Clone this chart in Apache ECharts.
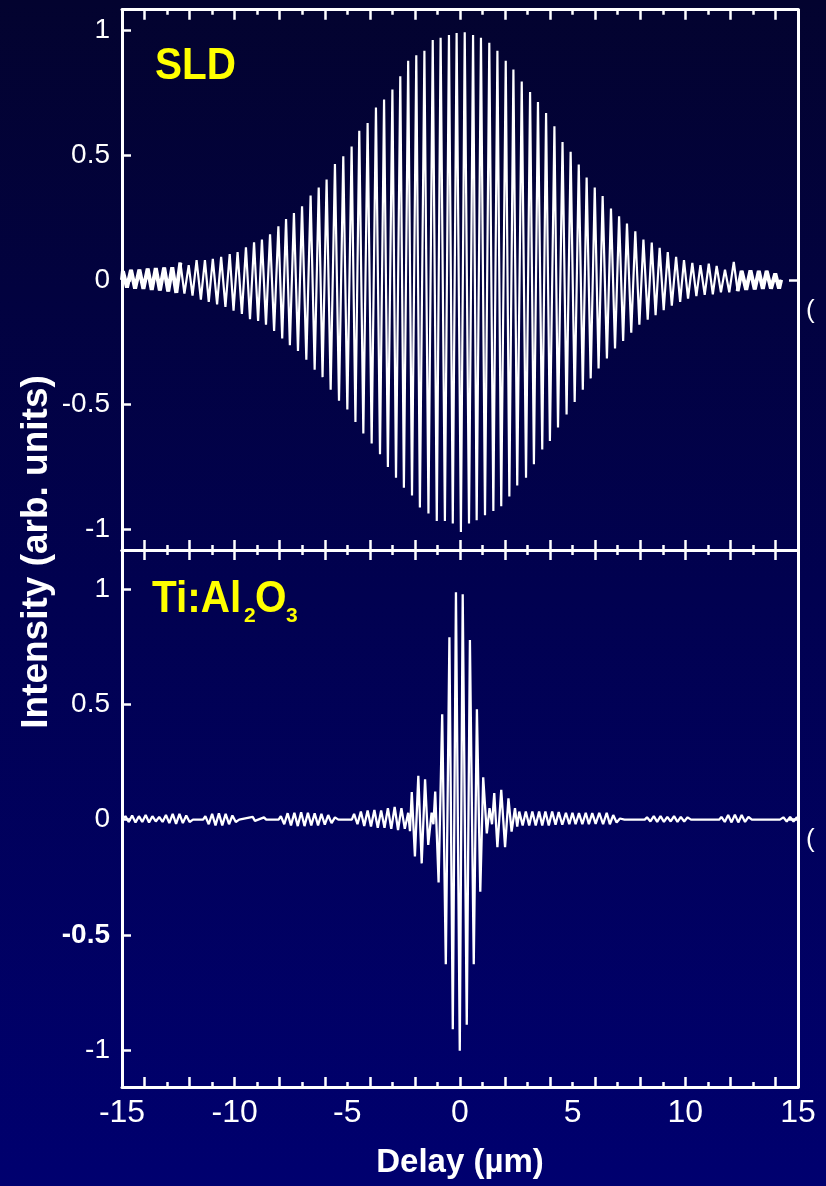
<!DOCTYPE html>
<html>
<head>
<meta charset="utf-8">
<title>SLD vs Ti:Al2O3 interferograms</title>
<script src="https://cdn.jsdelivr.net/npm/echarts@6/dist/echarts.min.js"></script>
<style>
  html, body { margin: 0; padding: 0; }
  #chart {
    width: 826px; height: 1186px;
    background: linear-gradient(to bottom, #03032f 0%, #010150 50%, #00006f 100%);
  }
</style>
</head>
<body>
<div id="chart"></div>
<script>
// tick positions / labels
const delayLabels = [-15, -10, -5, 0, 5, 10, 15];
const delayMajorTicks = [-14, -12, -10, -8, -6, -4, -2, 0, 2, 4, 6, 8, 10, 12, 14];
const intensityTicks = [-1, -0.5, 0, 0.5, 1];

// SLD interferogram: fringe maxima and minima [delay um, intensity]
const sldPeaks = [
  [-14.96, 0.035], [-14.6, 0.04], [-14.23, 0.041], [-13.86, 0.045], [-13.5, 0.047], [-13.13, 0.049],
  [-12.77, 0.05], [-12.41, 0.069], [-12.04, 0.059], [-11.69, 0.079], [-11.32, 0.079], [-10.97, 0.084],
  [-10.6, 0.092], [-10.22, 0.103], [-9.87, 0.111], [-9.5, 0.13], [-9.14, 0.151], [-8.79, 0.162],
  [-8.43, 0.183], [-8.06, 0.215], [-7.72, 0.244], [-7.37, 0.268], [-7.01, 0.295], [-6.63, 0.338],
  [-6.27, 0.37], [-5.92, 0.402], [-5.55, 0.464], [-5.18, 0.495], [-4.81, 0.535], [-4.47, 0.598],
  [-4.1, 0.629], [-3.73, 0.691], [-3.37, 0.723], [-3.0, 0.763], [-2.65, 0.816], [-2.3, 0.878],
  [-1.94, 0.9], [-1.58, 0.918], [-1.21, 0.961], [-0.86, 0.971], [-0.49, 0.982], [-0.15, 0.99],
  [0.21, 0.993], [0.58, 0.982], [0.93, 0.971], [1.3, 0.95], [1.66, 0.918], [2.03, 0.878],
  [2.37, 0.843], [2.74, 0.795], [3.11, 0.753], [3.46, 0.713], [3.82, 0.669], [4.19, 0.616],
  [4.55, 0.553], [4.91, 0.513], [5.27, 0.462], [5.62, 0.41], [5.98, 0.37], [6.33, 0.336],
  [6.7, 0.286], [7.06, 0.255], [7.41, 0.226], [7.78, 0.195], [8.14, 0.162], [8.51, 0.15],
  [8.86, 0.128], [9.22, 0.111], [9.59, 0.092], [9.94, 0.079], [10.31, 0.068], [10.67, 0.059],
  [11.04, 0.065], [11.39, 0.056], [11.76, 0.041], [12.15, 0.072], [12.5, 0.036], [12.89, 0.038],
  [13.26, 0.036], [13.61, 0.036], [13.99, 0.025]
];
const sldTroughs = [
  [-14.78, -0.031], [-14.42, -0.035], [-14.05, -0.036], [-13.68, -0.04], [-13.32, -0.042], [-12.95, -0.046],
  [-12.59, -0.052], [-12.23, -0.055], [-11.87, -0.063], [-11.5, -0.079], [-11.15, -0.088], [-10.78, -0.098],
  [-10.41, -0.108], [-10.05, -0.124], [-9.68, -0.137], [-9.32, -0.158], [-8.96, -0.165], [-8.61, -0.18],
  [-8.25, -0.205], [-7.89, -0.235], [-7.55, -0.262], [-7.19, -0.285], [-6.82, -0.32], [-6.45, -0.36],
  [-6.1, -0.39], [-5.74, -0.44], [-5.37, -0.485], [-5.0, -0.52], [-4.64, -0.57], [-4.29, -0.616],
  [-3.92, -0.656], [-3.55, -0.699], [-3.2, -0.75], [-2.84, -0.793], [-2.49, -0.833], [-2.13, -0.864],
  [-1.78, -0.913], [-1.4, -0.937], [-1.03, -0.967], [-0.67, -0.967], [-0.32, -0.977], [0.04, -1.011],
  [0.4, -0.977], [0.74, -0.964], [1.11, -0.944], [1.48, -0.927], [1.83, -0.908], [2.19, -0.868],
  [2.54, -0.824], [2.93, -0.793], [3.28, -0.739], [3.65, -0.68], [3.99, -0.646], [4.35, -0.592],
  [4.73, -0.54], [5.09, -0.49], [5.45, -0.44], [5.8, -0.395], [6.15, -0.355], [6.52, -0.315],
  [6.88, -0.275], [7.24, -0.245], [7.6, -0.212], [7.96, -0.18], [8.33, -0.16], [8.68, -0.142],
  [9.04, -0.122], [9.4, -0.103], [9.77, -0.088], [10.12, -0.075], [10.49, -0.065], [10.86, -0.06],
  [11.22, -0.058], [11.58, -0.05], [11.95, -0.05], [12.32, -0.045], [12.7, -0.04], [13.08, -0.038],
  [13.44, -0.036], [13.8, -0.035], [14.16, -0.035]
];
const sldEnds = [[-15, 0.0], [14.25, 0.0]];

// Ti:Al2O3 interferogram, in delay order
const tiLeftWing = [
  [-15, 0], [-14.85, 0.015], [-14.7, -0.01], [-14.55, 0.018], [-14.4, -0.012], [-14.25, 0.015], [-14.1, -0.01],
  [-13.95, 0.02], [-13.8, -0.012], [-13.65, 0.015], [-13.5, -0.008], [-13.35, 0.012], [-13.2, -0.01],
  [-13.05, 0.02], [-12.9, -0.015], [-12.75, 0.025], [-12.6, -0.018], [-12.45, 0.025], [-12.3, -0.015],
  [-12.15, 0.018], [-12.0, -0.01], [-11.85, 0], [-11.4, 0],
  [-11.3, 0.015], [-11.15, -0.02], [-11.0, 0.025], [-10.85, -0.025], [-10.7, 0.028], [-10.55, -0.025],
  [-10.4, 0.025], [-10.25, -0.02], [-10.1, 0.018], [-9.95, -0.01], [-9.8, 0],
  [-9.2, 0.012], [-9.1, -0.005], [-8.7, 0.01], [-8.6, 0], [-8.05, 0],
  [-7.95, 0.015], [-7.8, -0.02], [-7.65, 0.028], [-7.5, -0.025], [-7.35, 0.03], [-7.2, -0.028],
  [-7.05, 0.032], [-6.9, -0.028], [-6.75, 0.03], [-6.6, -0.025], [-6.45, 0.028], [-6.3, -0.025],
  [-6.15, 0.025], [-6.0, -0.022], [-5.85, 0.02], [-5.7, -0.015], [-5.55, 0.01], [-5.4, 0], [-4.8, 0],
  [-4.7, 0.025], [-4.55, -0.02], [-4.4, 0.035], [-4.25, -0.028], [-4.1, 0.04], [-3.95, -0.03],
  [-3.8, 0.042], [-3.65, -0.035], [-3.5, 0.04], [-3.35, -0.035], [-3.2, 0.05], [-3.05, -0.04],
  [-2.9, 0.055], [-2.75, -0.045], [-2.6, 0.05], [-2.45, -0.04], [-2.3, 0.03], [-2.22, -0.05]
];
const tiCentre = [
  [-2.14, 0.12], [-2.0, -0.16], [-1.85, 0.19], [-1.7, -0.19], [-1.55, 0.175], [-1.41, -0.11],
  [-1.26, 0.03], [-1.18, -0.02], [-1.1, 0.122], [-0.95, -0.273], [-0.79, 0.458], [-0.63, -0.628],
  [-0.47, 0.792], [-0.32, -0.91], [-0.18, 0.987], [-0.01, -1.004], [0.12, 0.979], [0.3, -0.891],
  [0.44, 0.78], [0.61, -0.628], [0.75, 0.479], [0.9, -0.313], [1.03, 0.184], [1.19, -0.06],
  [1.31, 0.05], [1.42, -0.02], [1.52, 0.115], [1.66, -0.12], [1.83, 0.13], [2.0, -0.12],
  [2.15, 0.093], [2.29, -0.052], [2.44, 0.05]
];
const tiRightWing = [
  [2.54, -0.03], [2.63, 0.035], [2.78, -0.025], [2.92, 0.035], [3.07, -0.025], [3.21, 0.035],
  [3.36, -0.025], [3.51, 0.035], [3.65, -0.025], [3.79, 0.035], [3.94, -0.025], [4.09, 0.035],
  [4.24, -0.022], [4.38, 0.033], [4.54, -0.022], [4.7, 0.03], [4.85, -0.02], [4.99, 0.03],
  [5.13, -0.02], [5.28, 0.028], [5.43, -0.02], [5.58, 0.03], [5.72, -0.02], [5.87, 0.028],
  [6.02, -0.018], [6.18, 0.03], [6.35, -0.02], [6.51, 0.03], [6.65, -0.02], [6.8, 0.02],
  [6.95, -0.012], [7.1, 0.005], [7.3, 0], [8.2, 0],
  [8.3, 0.01], [8.45, -0.008], [8.6, 0.015], [8.75, -0.01], [8.9, 0.015], [9.05, -0.01],
  [9.2, 0.012], [9.35, -0.008], [9.5, 0.015], [9.65, -0.01], [9.8, 0.012], [9.95, -0.008],
  [10.1, 0.01], [10.25, 0], [11.5, 0],
  [11.6, 0.012], [11.75, -0.01], [11.9, 0.02], [12.05, -0.012], [12.2, 0.022], [12.35, -0.012],
  [12.5, 0.02], [12.65, -0.01], [12.8, 0.012], [12.95, 0], [14.2, 0],
  [14.35, 0.01], [14.5, -0.008], [14.65, 0.012], [14.8, -0.008], [14.95, 0.01], [15, 0]
];

const sldTrace = sldPeaks.concat(sldTroughs, sldEnds).sort((a, b) => a[0] - b[0]);
const sldTailLeft = sldTrace.filter(p => p[0] < -12.4);
const sldTailRight = sldTrace.filter(p => p[0] > 12.3);
const tiTrace = tiLeftWing.concat(tiCentre, tiRightWing);

const FONT = '"Liberation Sans", Arial, Helvetica, sans-serif';
const WHITE = '#ffffff';

function delayAxis(grid, position, major, withLabels) {
  return {
    type: 'value', gridIndex: grid, position: position,
    min: -15, max: 15, interval: 1,
    axisLine: { show: major, onZero: false, lineStyle: { color: WHITE, width: 3 } },
    axisTick: major
      ? { show: true, inside: true, length: 10, customValues: delayMajorTicks, lineStyle: { color: WHITE, width: 2.5 } }
      : { show: true, inside: true, length: 5, lineStyle: { color: WHITE, width: 2.5 } },
    axisLabel: {
      show: withLabels, customValues: delayLabels, margin: 10,
      color: WHITE, fontSize: 32, fontFamily: FONT
    },
    splitLine: { show: false }
  };
}

function intensityAxis(grid, min, max) {
  return {
    type: 'value', gridIndex: grid, position: 'left', min: min, max: max,
    axisLine: { show: true, onZero: false, lineStyle: { color: WHITE, width: 3 } },
    axisTick: { show: true, inside: true, length: 9, customValues: intensityTicks, lineStyle: { color: WHITE, width: 2.5 } },
    axisLabel: {
      customValues: intensityTicks, margin: 12,
      color: WHITE, fontSize: 28, fontFamily: FONT,
      formatter: v => (grid === 1 && v === -0.5) ? '{b|-0.5}' : String(v),
      rich: { b: { color: WHITE, fontSize: 28, fontWeight: 'bold', fontFamily: FONT } }
    },
    splitLine: { show: false }
  };
}

function rightAxis(grid, min, max) {
  return {
    type: 'value', gridIndex: grid, position: 'right', min: min, max: max,
    axisLine: { show: true, onZero: false, lineStyle: { color: WHITE, width: 3 } },
    axisTick: { show: true, inside: true, length: 9, customValues: [0], lineStyle: { color: WHITE, width: 2.5 } },
    axisLabel: { show: false },
    splitLine: { show: false }
  };
}

function trace(name, data, xi, yi, width) {
  return {
    name: name, type: 'line', xAxisIndex: xi, yAxisIndex: yi,
    data: data, symbol: 'none', silent: true,
    lineStyle: { color: WHITE, width: width }
  };
}

const chart = echarts.init(document.getElementById('chart'), null, { renderer: 'canvas' });

chart.setOption({
  backgroundColor: 'transparent',
  animation: false,
  grid: [
    { left: 122, right: 28, top: 9.7, height: 540.3 },
    { left: 122, right: 28, top: 550, height: 537 }
  ],
  xAxis: [
    delayAxis(0, 'bottom', true, false),
    delayAxis(0, 'bottom', false, false),
    delayAxis(0, 'top', true, false),
    delayAxis(0, 'top', false, false),
    delayAxis(1, 'bottom', true, true),
    delayAxis(1, 'bottom', false, false),
    delayAxis(1, 'top', true, false),
    delayAxis(1, 'top', false, false)
  ],
  yAxis: [
    intensityAxis(0, -1.083, 1.083),
    rightAxis(0, -1.083, 1.083),
    intensityAxis(1, -1.161, 1.171),
    rightAxis(1, -1.161, 1.171)
  ],
  series: [
    trace('SLD', sldTrace, 0, 0, 2.2),
    trace('SLD left tail', sldTailLeft, 0, 0, 4),
    trace('SLD right tail', sldTailRight, 0, 0, 4),
    trace('Ti:Al2O3', tiTrace, 4, 2, 2.3)
  ],
  graphic: [
    {
      type: 'text', x: 155, y: 67, scaleX: 0.92,
      style: { text: 'SLD', font: 'bold 44px ' + FONT, fill: '#ffff00', verticalAlign: 'middle' }
    },
    {
      type: 'text', x: 152, y: 600, scaleX: 0.92,
      style: { text: 'Ti:Al', font: 'bold 44px ' + FONT, fill: '#ffff00', verticalAlign: 'middle' }
    },
    {
      type: 'text', x: 244, y: 616,
      style: { text: '2', font: 'bold 21px ' + FONT, fill: '#ffff00', verticalAlign: 'middle' }
    },
    {
      type: 'text', x: 255, y: 600, scaleX: 0.92,
      style: { text: 'O', font: 'bold 44px ' + FONT, fill: '#ffff00', verticalAlign: 'middle' }
    },
    {
      type: 'text', x: 286, y: 616,
      style: { text: '3', font: 'bold 21px ' + FONT, fill: '#ffff00', verticalAlign: 'middle' }
    },
    {
      type: 'text', x: 37, y: 552, rotation: Math.PI / 2,
      style: { text: 'Intensity (arb. units)', font: 'bold 37px ' + FONT, fill: WHITE, align: 'center', verticalAlign: 'middle' }
    },
    {
      type: 'text', x: 460, y: 1163,
      style: { text: 'Delay (\u00b5m)', font: 'bold 33px ' + FONT, fill: WHITE, align: 'center', verticalAlign: 'middle' }
    },
    {
      type: 'text', x: 806, y: 311,
      style: { text: '(', font: '26px ' + FONT, fill: WHITE, verticalAlign: 'middle' }
    },
    {
      type: 'text', x: 806, y: 840,
      style: { text: '(', font: '26px ' + FONT, fill: WHITE, verticalAlign: 'middle' }
    }
  ]
});
</script>
</body>
</html>
